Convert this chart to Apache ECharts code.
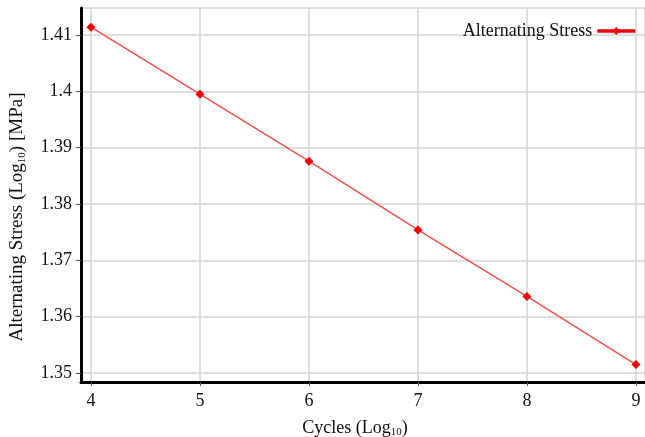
<!DOCTYPE html>
<html>
<head>
<meta charset="utf-8">
<title>Alternating Stress</title>
<script src="https://cdn.jsdelivr.net/npm/echarts@6/dist/echarts.min.js"></script>
<style>
  html, body { margin: 0; padding: 0; background: #fff; }
  #chart { width: 645px; height: 437px; }
</style>
</head>
<body>
<div id="chart"></div>
<script>
// data
var cycles = [4, 5, 6, 7, 8, 9];
var stress = [1.4114, 1.3995, 1.3876, 1.3754, 1.3636, 1.3515];
var seriesName = 'Alternating Stress';

var points = cycles.map(function (c, i) { return [c, stress[i]]; });
var serif = '"Liberation Serif", "DejaVu Serif", serif';

var chart = echarts.init(document.getElementById('chart'));
chart.setOption({
  backgroundColor: '#ffffff',
  animation: false,
  textStyle: { fontFamily: serif },
  grid: { left: 81, right: 0, top: 8, bottom: 55, outerBoundsMode: 'none', containLabel: false },
  legend: {
    right: 3, top: 17,
    align: 'right',
    itemWidth: 38, itemHeight: 10,
    lineStyle: { width: 3.5, color: '#f00000' },
    textStyle: { fontFamily: serif, fontSize: 18, color: '#111' },
    data: [seriesName]
  },
  xAxis: {
    type: 'value',
    min: 3.908, max: 9.083,
    splitNumber: 5,
    name: '{n|Cycles (Log}{s|10}{n|)}',
    nameLocation: 'middle',
    nameGap: 36,
    nameTextStyle: {
      padding: [0, 16, 0, 0],
      rich: {
        n: { fontFamily: serif, fontSize: 18, color: '#111' },
        s: { fontFamily: serif, fontSize: 11, color: '#111', padding: [9, 0, 0, 0] }
      }
    },
    axisLine: { show: true, lineStyle: { color: '#000', width: 3 } },
    axisTick: { show: true, length: 4, lineStyle: { color: '#555' } },
    axisLabel: { showMinLabel: false, showMaxLabel: false, fontFamily: serif, fontSize: 18, color: '#111', margin: 10 },
    splitLine: { show: true, lineStyle: { color: '#d4d4d4', width: 1.5 } }
  },
  yAxis: {
    type: 'value',
    min: 1.3484, max: 1.4148,
    splitNumber: 6,
    name: '{n|Alternating Stress (Log}{s|10}{n|) [MPa]}',
    nameLocation: 'middle',
    nameRotate: 90,
    nameGap: 53,
    nameTextStyle: {
      padding: [0, 44, 0, 0],
      rich: {
        n: { fontFamily: serif, fontSize: 19, color: '#111' },
        s: { fontFamily: serif, fontSize: 11, color: '#111', padding: [10, 0, 0, 0] }
      }
    },
    axisLine: { show: true, lineStyle: { color: '#000', width: 3 } },
    axisTick: { show: true, length: 5, lineStyle: { color: '#555' } },
    axisLabel: { showMinLabel: false, showMaxLabel: false, fontFamily: serif, fontSize: 18, color: '#111', margin: 9 },
    splitLine: { show: true, lineStyle: { color: '#d4d4d4', width: 1.5 } }
  },
  series: [{
    name: seriesName,
    type: 'line',
    data: points,
    symbol: 'diamond',
    symbolSize: 9,
    itemStyle: { color: '#f00000' },
    lineStyle: { color: '#ee5050', width: 1.5 }
  }]
});
</script>
</body>
</html>
